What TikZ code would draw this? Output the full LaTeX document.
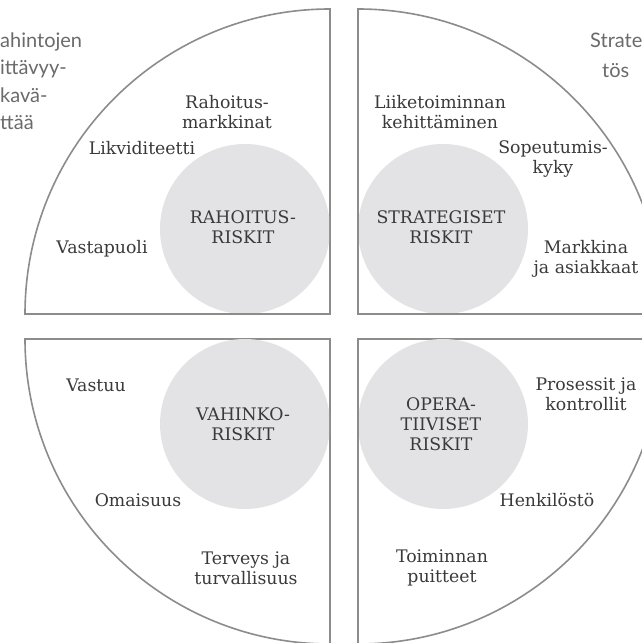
\documentclass[tikz,border=0pt]{standalone}
\usepackage{fontspec}
\setmainfont{DejaVu Serif}
\newfontfamily\graysans{Lato}
\definecolor{edge}{HTML}{8C8C8C}
\definecolor{disc}{HTML}{E3E3E5}
\definecolor{ink}{HTML}{3A3A3A}
\definecolor{faint}{HTML}{6A6A6A}
\tikzset{
  quad/.style={draw=edge, line width=1.6pt, fill=white},
  discfill/.style={fill=disc},
  lbl/.style={text=ink, align=center, inner sep=0pt, font=\fontsize{17.3}{20}\selectfont},
  side/.style={text=faint, inner sep=0pt, anchor=base west, font=\graysans\fontsize{20}{24}\selectfont}
}
\begin{document}
\begin{tikzpicture}[x=1pt,y=1pt]
\useasboundingbox (0,0) rectangle (642,643);
% cut-off side texts
\node[side] (s1) at (0,595) {ahintojen};
\node[side] (s2) at (0,568) {ittävyy-};
\node[side] (s3) at (0,540) {kavä-};
\node[side] (s4) at (0,513) {ttää};
\node[side] (s5) at (590,595) {Strate};
\node[side] (s6) at (602,565) {tös};
% quadrants
\path[quad] (330,329) -- (25,329) arc[start angle=180,end angle=90,radius=305] -- cycle;
\path[quad] (358,329) -- (358,634) arc[start angle=90,end angle=0,radius=305] -- cycle;
\path[quad] (330,304) -- (330,-1) arc[start angle=270,end angle=180,radius=305] -- cycle;
\path[quad] (358,304) -- (663,304) arc[start angle=0,end angle=-90,radius=305] -- cycle;
% discs
\begin{scope}
\clip (150,330) rectangle (329,520);
\fill[discfill] (245,414) circle[radius=85];
\end{scope}
\begin{scope}
\clip (359,330) rectangle (540,520);
\fill[discfill] (443,414) circle[radius=85];
\end{scope}
\begin{scope}
\clip (150,100) rectangle (329,303);
\fill[discfill] (245,219) circle[radius=85];
\end{scope}
\begin{scope}
\clip (359,100) rectangle (540,303);
\fill[discfill] (443,219) circle[radius=85];
\end{scope}
% labels top-left
\node[lbl] (rahmark) at (227,531) {Rahoitus-\\markkinat};
\node[lbl] (likv) at (142,495) {Likviditeetti};
\node[lbl] (rahris) at (243,415.5) {RAHOITUS-\\RISKIT};
\node[lbl] (vasta) at (102,394) {Vastapuoli};
% top-right
\node[lbl] (liike) at (440,531) {Liiketoiminnan\\kehittäminen};
\node[lbl] (sopeu) at (553,484) {Sopeutumis-\\kyky};
\node[lbl] (strat) at (441,415.5) {STRATEGISET\\RISKIT};
\node[lbl] (markk) at (586,384) {Markkina\\ja asiakkaat};
% bottom-left
\node[lbl] (vastuu) at (96,258) {Vastuu};
\node[lbl] (vahris) at (243,219) {VAHINKO-\\RISKIT};
\node[lbl] (omai) at (138,143) {Omaisuus};
\node[lbl] (terv) at (246,75) {Terveys ja\\turvallisuus};
% bottom-right
\node[lbl] (pros) at (586,248.5) {Prosessit ja\\kontrollit};
\node[lbl] (oper) at (441,218.5) {OPERA-\\TIIVISET\\RISKIT};
\node[lbl] (henk) at (547,143) {Henkilöstö};
\node[lbl] (toim) at (442,75) {Toiminnan\\puitteet};
\end{tikzpicture}
\end{document}
